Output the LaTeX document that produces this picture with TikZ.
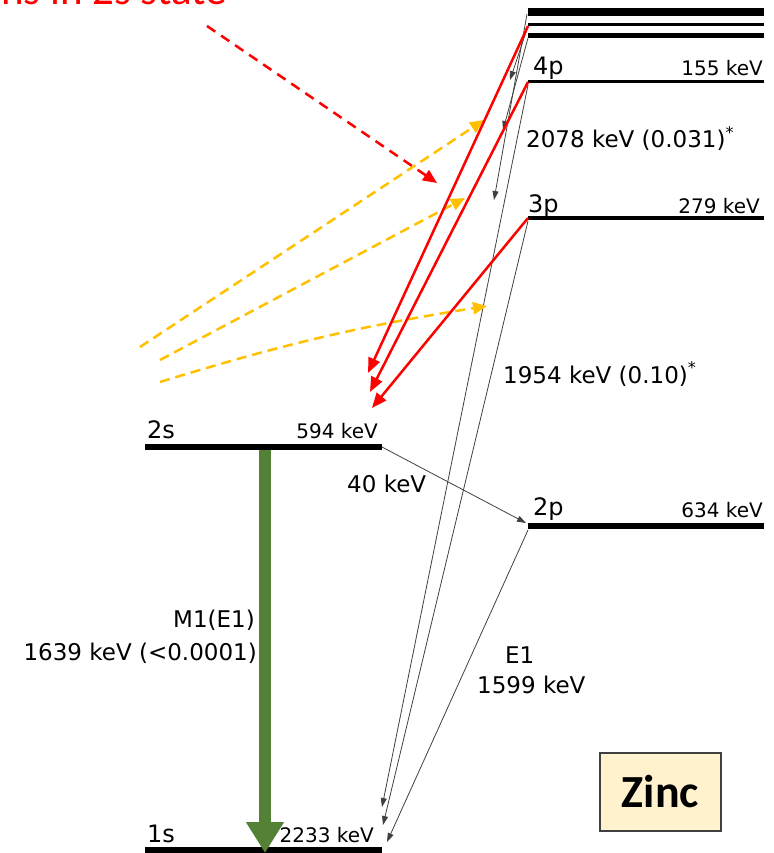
\documentclass[tikz,border=0pt]{standalone}
\usepackage{fontspec}
\setmainfont{DejaVu Sans}
\newfontfamily\znbody{Carlito}
\usetikzlibrary{arrows.meta}
\definecolor{znInk}{HTML}{000000}
\definecolor{znRed}{HTML}{FF0000}
\definecolor{znOrange}{HTML}{FFC000}
\definecolor{znGreen}{HTML}{538135}
\definecolor{znGray}{HTML}{404040}
\definecolor{znCream}{HTML}{FFF2CC}
\tikzset{
  every picture/.style={text=znInk},
  zn level/.style={draw=znInk, line cap=butt},
  zn name/.style={font=\fontsize{24}{28}\selectfont, inner sep=0pt},
  zn energy/.style={font=\fontsize{20}{24}\selectfont, inner sep=0pt},
  zn label/.style={font=\fontsize{23}{27}\selectfont, inner sep=0pt},
  zn thin/.style={-{Triangle[length=9pt,width=6pt]}, draw=znGray, line width=0.8pt},
  zn capture/.style={-{Triangle[length=15pt,width=12pt]}, draw=znRed, line width=2.5pt},
  zn photon/.style={-{Triangle[length=14pt,width=12pt]}, draw=znOrange,
    line width=2.5pt, dash pattern=on 10pt off 6pt},
  zn pointer/.style={-{Triangle[length=14pt,width=12pt]}, draw=znRed,
    line width=2.5pt, dash pattern=on 10pt off 7pt},
  zn m1/.style={-{Triangle[length=31pt,width=36pt]}, draw=znGreen, line width=12pt},
  zn box/.style={draw=znGray, line width=1.5pt, fill=znCream, minimum width=121pt,
    minimum height=78pt, font=\znbody\bfseries\fontsize{46}{50}\selectfont}
}

\begin{document}
\begin{tikzpicture}[x=1pt,y=-1pt]
  \useasboundingbox (0,0) rectangle (773,853);
  % level ends
  \coordinate (tA) at (527,14);
  \coordinate (tB) at (528,26);
  \coordinate (tC) at (528,38);
  \coordinate (lv4pL) at (528,82);
  \coordinate (lv3pL) at (528,218);
  \coordinate (lv2pL) at (528,526);
  \coordinate (lv2sL) at (145,447);
  \coordinate (lv2sR) at (382,447);
  \coordinate (lv1sL) at (145,850);
  \coordinate (lv1sR) at (382,850);

  \draw[zn level, line width=8pt] (528,12) -- (764,12);
  \draw[zn level, line width=3pt] (528,24.5) -- (764,24.5);
  \draw[zn level, line width=5pt] (528,36) -- (764,36);
  \draw[zn level, line width=3pt] (lv4pL) -- (764,82);
  \draw[zn level, line width=4pt] (lv3pL) -- (764,218);
  \draw[zn level, line width=6pt] (lv2pL) -- (764,526);
  \draw[zn level, line width=6pt] (lv2sL) -- (lv2sR);
  \draw[zn level, line width=6pt] (lv1sL) -- (lv1sR);

  % level labels
  \node[zn name, anchor=base west] (n4p) at (533,75) {4p};
  \node[zn energy, anchor=base east] (e4p) at (763,76) {155 keV};
  \node[zn name, anchor=base west] (n3p) at (528,212) {3p};
  \node[zn energy, anchor=base east] (e3p) at (760,213) {279 keV};
  \node[zn name, anchor=base west] (n2p) at (533,515) {2p};
  \node[zn energy, anchor=base east] (e2p) at (763,517) {634 keV};
  \node[zn name, anchor=base west] (n2s) at (147,438) {2s};
  \node[zn energy, anchor=base east] (e2s) at (378,438) {594 keV};
  \node[zn name, anchor=base west] (n1s) at (147,842) {1s};
  \node[zn energy, anchor=base east] (e1s) at (374,842) {2233 keV};

  % transition labels
  \node[zn label, anchor=base west] (t4p) at (526,148) {2078 keV (0.031)\textsuperscript{*}};
  \node[zn label, anchor=base west] (t3p) at (503,383) {1954 keV (0.10)\textsuperscript{*}};
  \node[zn label, anchor=base west] (t40) at (347,492) {40 keV};
  \node[zn label, anchor=base east] (tm1) at (255,627) {M1(E1)};
  \node[zn label, anchor=base east] (tm1e) at (257,660) {1639 keV (<0.0001)};
  \node[zn label, anchor=base west] (te1) at (505,663) {E1};
  \node[zn label, anchor=base west] (te1e) at (477,693) {1599 keV};

  \node[anchor=base east, text=znRed, inner sep=0pt,
    font=\znbody\fontsize{43}{46}\selectfont] (title) at (227,5) {ns in 2s state};
  \node[zn box] (zinc) at (660.5,792) {Zinc};

  % thin cascade arrows
  \coordinate (cA) at (494,200);
  \coordinate (cB) at (510,80);
  \coordinate (cC) at (503,130);
  \coordinate (k4) at (382,807);
  \coordinate (k3) at (383,825);
  \coordinate (k2) at (387,842);
  \draw[zn thin] (tA) -- (cA);
  \draw[zn thin] (tB) -- (cB);
  \draw[zn thin] (tC) -- (cC);
  \draw[zn thin] ([yshift=-3pt]lv4pL) -- (k4);
  \draw[zn thin] ([yshift=-3pt]lv3pL) -- (k3);
  \draw[zn thin] ([yshift=-4pt]lv2pL) -- (k2);
  \draw[zn thin] (lv2sR) -- ([xshift=-2pt,yshift=3pt]lv2pL);

  % incoming photons and pointer
  \coordinate (o1s) at (140,347);
  \coordinate (o1e) at (484,120);
  \coordinate (o2s) at (160,360);
  \coordinate (o2e) at (465,198);
  \coordinate (o3s) at (160,382);
  \coordinate (o3e) at (487,306);
  \draw[zn photon] (o1s) -- (o1e);
  \draw[zn photon] (o2s) -- (o2e);
  \draw[zn photon] (o3s) to[bend left=4] (o3e);
  \coordinate (p0) at (207,26);
  \coordinate (p1) at (437,183);
  \draw[zn pointer] (p0) -- (p1);

  % capture into 2s
  \coordinate (r1) at (368,373);
  \coordinate (r2) at (370,392);
  \coordinate (r3) at (372,408);
  \draw[zn capture] (tB) -- (r1);
  \draw[zn capture] (lv4pL) -- (r2);
  \draw[zn capture] (lv3pL) -- (r3);

  % 2s -> 1s
  \coordinate (g0) at (265,450);
  \coordinate (lv1sM) at (265,853);
  \draw[zn m1] (g0) -- (lv1sM);
\end{tikzpicture}
\end{document}
